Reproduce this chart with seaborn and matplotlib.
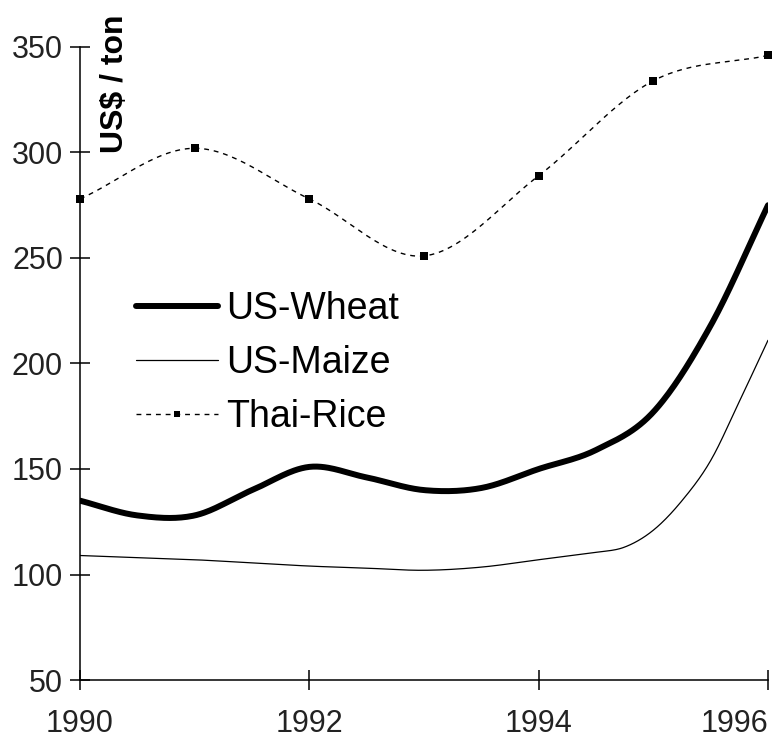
import numpy as np
import pandas as pd
import matplotlib
matplotlib.use("Agg")
import matplotlib.pyplot as plt
import seaborn as sns
from matplotlib.lines import Line2D

# ---- data ----
rice_years = [1990, 1991, 1992, 1993, 1994, 1995, 1996]
rice = [278, 302, 278, 251, 289, 334, 346]

wheat_years = [1990, 1990.5, 1991, 1991.5, 1992, 1992.5, 1993, 1993.5, 1994,
               1994.5, 1995, 1995.5, 1996]
wheat = [135, 128, 128, 140, 151, 146, 140, 141, 150, 159, 177, 218, 275]

maize_years = [1990, 1990.5, 1991, 1991.5, 1992, 1992.5, 1993, 1993.5, 1994,
               1994.5, 1994.75, 1995, 1995.25, 1995.5, 1995.75, 1996]
maize = [109, 108, 107, 105.5, 104, 103, 102, 103.5, 107,
         110.5, 113, 121, 135, 154, 182, 211]

x_ticks = [1990, 1992, 1994, 1996]
y_ticks = [50, 100, 150, 200, 250, 300, 350]
y_label = "US$ / ton"
labels = ["US-Wheat", "US-Maize", "Thai-Rice"]


def smooth(x, y, n=30):
    """Cubic Hermite rendering of a line through the given points (display smoothing)."""
    x = np.asarray(x, float)
    y = np.asarray(y, float)
    m = np.zeros_like(y)
    m[1:-1] = (y[2:] - y[:-2]) / (x[2:] - x[:-2])
    m[0] = (y[1] - y[0]) / (x[1] - x[0])
    m[-1] = (y[-1] - y[-2]) / (x[-1] - x[-2])
    xs, ys = [], []
    for i in range(len(x) - 1):
        h = x[i + 1] - x[i]
        t = np.linspace(0, 1, n, endpoint=False)
        h00 = 2 * t**3 - 3 * t**2 + 1
        h10 = t**3 - 2 * t**2 + t
        h01 = -2 * t**3 + 3 * t**2
        h11 = t**3 - t**2
        xs.append(x[i] + t * h)
        ys.append(h00 * y[i] + h10 * h * m[i] + h01 * y[i + 1] + h11 * h * m[i + 1])
    xs.append([x[-1]])
    ys.append([y[-1]])
    return np.concatenate(xs), np.concatenate(ys)


sns.set_theme(style="white")
plt.rcParams["font.family"] = ["Liberation Sans", "DejaVu Sans"]

W, H = 774, 738
fig = plt.figure(figsize=(W / 100, H / 100), dpi=100)
ax = fig.add_axes([80 / W, 58 / H, 688 / W, 633 / H])

wx, wy = smooth(wheat_years, wheat)
mx, my = smooth(maize_years, maize)
rx, ry = smooth(rice_years, rice)

sns.lineplot(x=wx, y=wy, ax=ax, color="black", linewidth=4.3, estimator=None)
sns.lineplot(x=mx, y=my, ax=ax, color="black", linewidth=0.9, estimator=None)
sns.lineplot(x=rx, y=ry, ax=ax, color="black", linewidth=1.0, estimator=None,
             linestyle=(0, (3.5, 3.5)))
sns.scatterplot(x=rice_years, y=rice, ax=ax, marker="s", s=28, color="black",
                linewidth=0, clip_on=False, zorder=5)

ax.set_xlim(1990, 1996)
ax.set_ylim(50, 350)
ax.set_xticks(x_ticks)
ax.set_yticks(y_ticks)
ax.set_xticklabels([str(v) for v in x_ticks])
ax.set_xlabel("")
ax.set_ylabel("")

for s in ["top", "right"]:
    ax.spines[s].set_visible(False)
for s in ["left", "bottom"]:
    ax.spines[s].set_color("black")
    ax.spines[s].set_linewidth(1.1)

ax.tick_params(axis="both", direction="inout", length=14.4, width=1.1,
               color="black", labelsize=22, labelcolor="#222222",
               bottom=True, left=True)
ax.tick_params(axis="y", pad=5)
ax.tick_params(axis="x", pad=14)
ax.get_xticklabels()[-1].set_horizontalalignment("right")

ax.text(0.029, 1.0506, y_label, transform=ax.transAxes, rotation=90,
        ha="left", va="top", fontsize=23, fontweight="bold", color="black",
        clip_on=False)

handles = [
    Line2D([], [], color="black", lw=4.3),
    Line2D([], [], color="black", lw=0.9),
    Line2D([], [], color="black", lw=1.0, ls=(0, (3.5, 3.5)), marker="s",
           markersize=5, markeredgewidth=0),
]
leg = ax.legend(handles, labels, loc="center left", bbox_to_anchor=(0.081, 0.501),
                frameon=False, fontsize=27, handlelength=2.2, handletextpad=0.2,
                labelspacing=0.48, borderpad=0, borderaxespad=0, numpoints=1)
for t in leg.get_texts():
    t.set_color("black")

fig.savefig("out.png", dpi=100, facecolor="white")
